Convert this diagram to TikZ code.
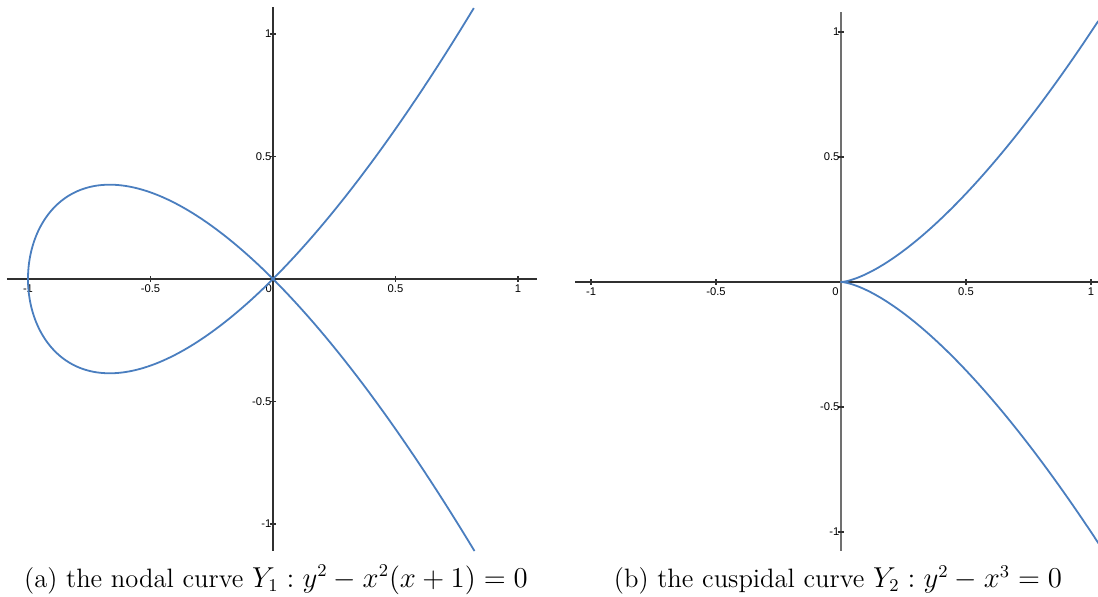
\documentclass[tikz,border=0pt]{standalone}
\usepackage{fontspec}
\setsansfont{Liberation Sans}
\usetikzlibrary{calc}
\definecolor{curveBlue}{HTML}{4A7EBF}
\definecolor{axisDark}{HTML}{303030}
\definecolor{axisGray}{HTML}{707070}

\begin{document}
\begin{tikzpicture}[
  x=0.5pt, y=0.5pt,
  font=\sffamily,
  axisline/.style={line width=0.6pt, axisDark},
  curveline/.style={line width=0.9pt, curveBlue, line join=round},
  xlab/.style={anchor=north, inner sep=1pt, font=\sffamily\fontsize{5.6}{6}\selectfont},
  ylab/.style={anchor=east, inner sep=0.6pt, font=\sffamily\fontsize{5.6}{6}\selectfont},
  caption/.style={font=\rmfamily\fontsize{13.3}{16}\selectfont, inner sep=0pt}
]

  \useasboundingbox (0,0) rectangle (1098,597);

  % ----------------------------------------------------
  % (a) nodal curve
  % ----------------------------------------------------
  \begin{scope}[shift={(273,318)}, x=122.5pt, y=122.5pt]
    \draw[axisline] (-1.086,0) -- (1.078,0);
    \draw[axisline] (0,-1.11) -- (0,1.11);
    \foreach \v [count=\i] in {-1,-0.5,0.5,1} {
      \draw[axisline] (\v,-0.012) -- (\v,0.012);
      \node[xlab] (nx\i) at (\v,-0.012) {\v};
      \draw[axisline] (-0.012,\v) -- (0.012,\v);
      \node[ylab] (ny\i) at (0,\v) {\v};
    }
    \node[xlab, anchor=north east] (nzero) at (0.005,-0.012) {0};

    \draw[curveline] plot[domain=-1.35:1.35, samples=241, variable=\t]
      ({\t*\t-1}, {\t*(\t*\t-1)});
  \end{scope}

  % ----------------------------------------------------
  % (b) cuspidal curve
  % ----------------------------------------------------
  \begin{scope}[shift={(841,315)}, x=125pt, y=125pt]
    \draw[axisline] (-1.064,0) -- (1.03,0);
    \draw[axisline, axisGray] (0,-1.076) -- (0,1.08);
    \foreach \v [count=\i] in {-1,-0.5,0.5,1} {
      \draw[axisline] (\v,-0.012) -- (\v,0.012);
      \node[xlab] (cx\i) at (\v,-0.012) {\v};
      \draw[axisline] (-0.012,\v) -- (0.012,\v);
      \node[ylab] (cy\i) at (0,\v) {\v};
    }
    \node[xlab, anchor=north east] (czero) at (0.0,-0.012) {0};

    \draw[curveline] plot[domain=-1.015:1.015, samples=201, variable=\t]
      ({\t*\t}, {\t*\t*\t});
  \end{scope}

  % captions
  \node[caption] (capa) at (276,17) {(a) the nodal curve $Y_1 : y^2 - x^2(x+1) = 0$};
  \node[caption] (capb) at (838,17) {(b) the cuspidal curve $Y_2 : y^2 - x^3 = 0$};

\end{tikzpicture}
\end{document}
